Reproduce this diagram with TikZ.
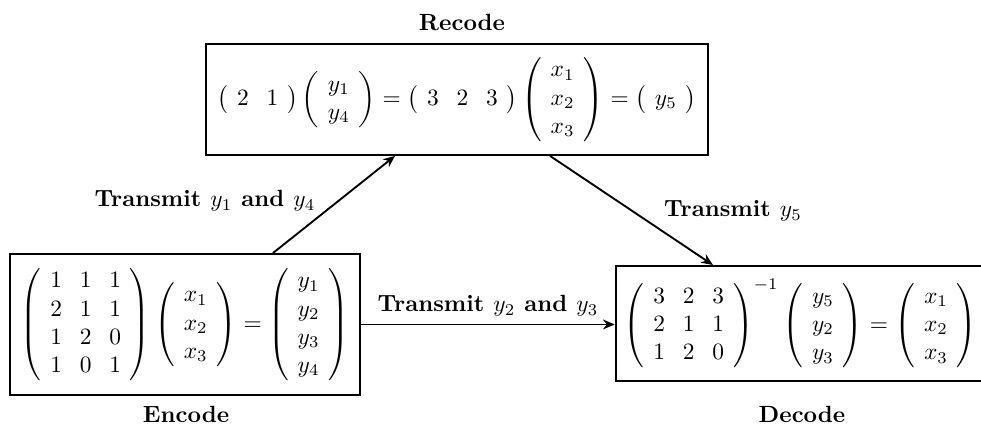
\documentclass[tikz,border=0pt]{standalone}
\usepackage{amsmath}
\usepackage{tikz}
\usetikzlibrary{arrows.meta}

\setlength{\arraycolsep}{3.8pt}

\begin{document}
\begin{tikzpicture}[
    kasten/.style={draw, thick, inner sep=0pt},
    pfeil/.style={-{Stealth[length=5pt,width=4.2pt]}, thick},
]

\useasboundingbox (0,0) rectangle (14.715,6.405);

\node [kasten, minimum width=7.53cm, minimum height=1.665cm] (rec) at (6.855,4.913)
  {$\left(\begin{array}{cc} 2 & 1 \end{array}\right)
    \left(\begin{array}{c} y_1 \\ y_4 \end{array}\right)
    =\left(\begin{array}{ccc} 3 & 2 & 3 \end{array}\right)
    \left(\begin{array}{c} x_1 \\ x_2 \\ x_3 \end{array}\right)
    =\left(\begin{array}{c} y_5 \end{array}\right)$};

\node [kasten, minimum width=5.25cm, minimum height=2.115cm] (enc) at (2.775,1.538)
  {$\left(\begin{array}{ccc} 1 & 1 & 1 \\ 2 & 1 & 1 \\ 1 & 2 & 0 \\ 1 & 0 & 1 \end{array}\right)
    \left(\begin{array}{c} x_1 \\ x_2 \\ x_3 \end{array}\right)
    =\left(\begin{array}{c} y_1 \\ y_2 \\ y_3 \\ y_4 \end{array}\right)$};

\node [kasten, minimum width=5.55cm, minimum height=1.725cm] (dec) at (12.01,1.553)
  {$\left(\begin{array}{ccc} 3 & 2 & 3 \\ 2 & 1 & 1 \\ 1 & 2 & 0 \end{array}\right)^{-1}
    \left(\begin{array}{c} y_5 \\ y_2 \\ y_3 \end{array}\right)
    =\left(\begin{array}{c} x_1 \\ x_2 \\ x_3 \end{array}\right)$};

\node (recname) at (6.93,6.075) {\textbf{Recode}};
\node (encname) at (2.79,0.19) {\textbf{Encode}};
\node (decname) at (12.03,0.19) {\textbf{Decode}};

\draw [pfeil] ([xshift=1.32cm]enc.north) -- ([xshift=-0.93cm]rec.south);
\draw [pfeil] ([xshift=1.395cm]rec.south) -- ([xshift=-1.315cm]dec.north);
\draw [pfeil] (enc.east) -- (enc.east -| dec.west);

\node (t14) at (3.075,3.39) {\textbf{Transmit $y_1$ and $y_4$}};
\node (t5) at (10.995,3.24) {\textbf{Transmit $y_5$}};
\node (t23) at (7.32,1.815) {\textbf{Transmit $y_2$ and $y_3$}};

\end{tikzpicture}
\end{document}
